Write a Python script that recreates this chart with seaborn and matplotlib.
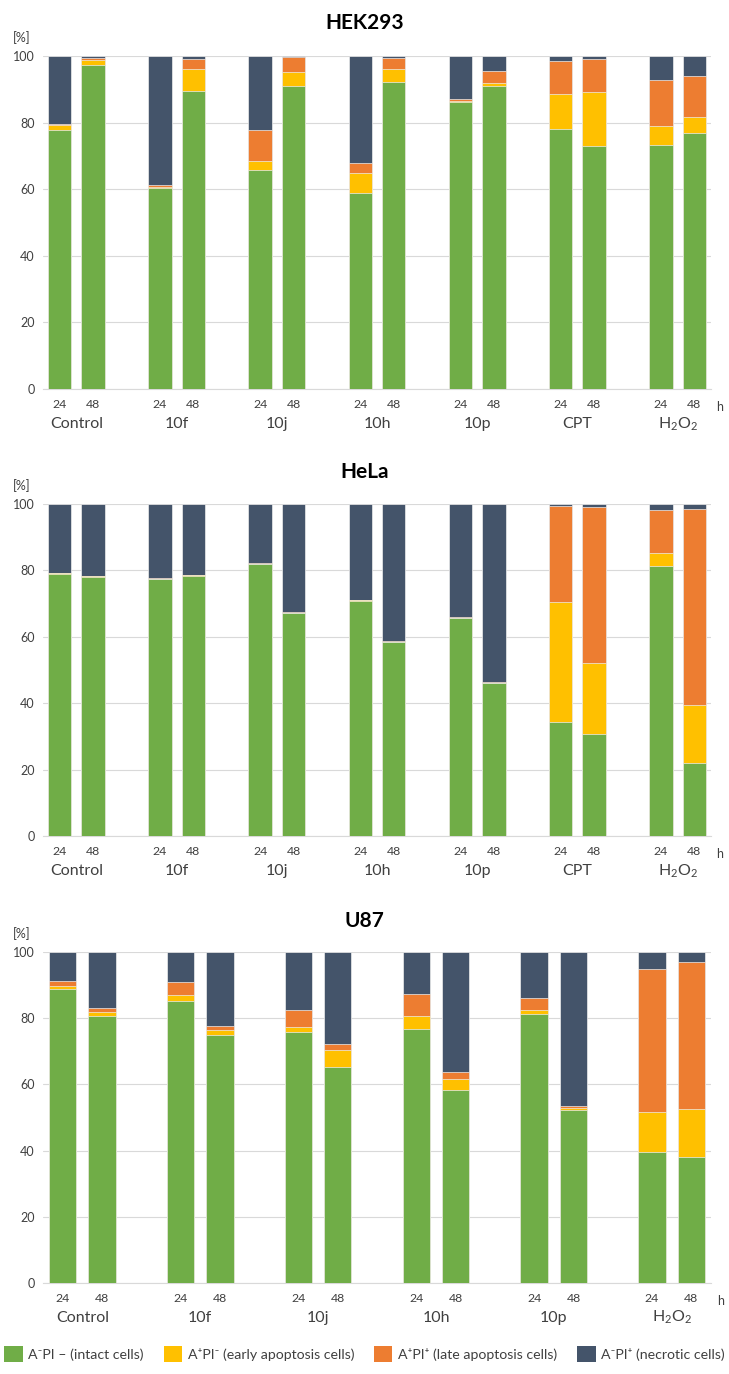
import numpy as np
import pandas as pd
import matplotlib
matplotlib.use("Agg")
import matplotlib.pyplot as plt
import matplotlib.transforms as mtransforms
from matplotlib.patches import Patch
import seaborn as sns

# ---------------- data ----------------
groups_full = ["Control", "10f", "10j", "10h", "10p", "CPT", "H$_2$O$_2$"]
groups_u87 = ["Control", "10f", "10j", "10h", "10p", "H$_2$O$_2$"]
hours = ["24", "48"]

hek_intact = [77.8, 97.3, 60.3, 89.5, 65.9, 91.0, 58.9, 92.3, 86.1, 90.9, 78.2, 73.0, 73.4, 76.8]
hek_early = [1.5, 1.4, 0.5, 6.6, 2.7, 4.1, 6.1, 3.8, 0.5, 1.1, 10.4, 16.3, 5.6, 5.0]
hek_late = [0.4, 0.6, 0.4, 3.0, 9.3, 4.5, 2.9, 3.3, 0.5, 3.5, 9.9, 9.8, 13.9, 12.1]
hek_necrotic = [20.3, 0.7, 38.8, 0.9, 22.1, 0.4, 32.1, 0.6, 12.9, 4.5, 1.5, 0.9, 7.1, 6.1]

hela_intact = [79.0, 78.1, 77.3, 78.4, 81.9, 67.2, 70.9, 58.4, 65.6, 46.0, 34.2, 30.6, 81.2, 22.0]
hela_early = [0.1, 0.1, 0.1, 0.1, 0.1, 0.1, 0.1, 0.1, 0.1, 0.1, 36.4, 21.6, 3.9, 17.4]
hela_late = [0.2, 0.2, 0.3, 0.2, 0.2, 0.2, 0.2, 0.2, 0.2, 0.2, 28.7, 47.0, 13.0, 59.1]
hela_necrotic = [20.7, 21.6, 22.3, 21.3, 17.8, 32.5, 28.8, 41.3, 34.1, 53.7, 0.7, 0.8, 1.9, 1.5]

u87_intact = [88.8, 80.6, 85.2, 74.9, 75.8, 65.4, 76.6, 58.2, 81.2, 52.3, 39.7, 38.2]
u87_early = [0.9, 1.4, 1.8, 1.5, 1.5, 5.1, 4.0, 3.5, 1.2, 0.7, 11.9, 14.4]
u87_late = [1.6, 1.0, 3.9, 1.1, 5.1, 1.6, 6.8, 2.0, 3.7, 0.4, 43.3, 44.5]
u87_necrotic = [8.7, 17.0, 9.1, 22.5, 17.6, 27.9, 12.6, 36.3, 13.9, 46.6, 5.1, 2.9]

legend_labels = ["A\u207bPI \u2013 (intact cells)", "A\u207aPI\u207b (early apoptosis cells)",
                 "A\u207aPI\u207a (late apoptosis cells)", "A\u207bPI\u207a (necrotic cells)"]
colors = ["#70AD47", "#FFC000", "#ED7D31", "#44546A"]

# ---------------- style ----------------
sns.set_theme(style="white")
plt.rcParams["font.family"] = ["Lato", "DejaVu Sans"]
plt.rcParams["mathtext.default"] = "regular"
TXT = "#404040"

W, H = 729, 1374
fig = plt.figure(figsize=(W / 100, H / 100), dpi=100)


def px_axes(left, top, right, bottom):
    return fig.add_axes([left / W, 1 - bottom / H, (right - left) / W, (bottom - top) / H])


def panel(ax, groups, intact, early, late, necrotic):
    n = len(groups)
    slots = []
    for gi in range(n):
        slots += [f"g{gi}_24", f"g{gi}_48"]
        if gi < n - 1:
            slots.append(f"gap{gi}")
    keys = [f"g{gi}_{h}" for gi in range(n) for h in hours]
    intact = np.array(intact); early = np.array(early)
    late = np.array(late); necrotic = np.array(necrotic)
    tops = [intact + early + late + necrotic, intact + early + late, intact + early, intact]
    cols = colors[::-1]
    for top, c in zip(tops, cols):
        df = pd.DataFrame({"slot": keys, "val": top})
        sns.barplot(data=df, x="slot", y="val", order=slots, color=c, saturation=1,
                    width=0.7, edgecolor="#EDEDED", linewidth=0.5, errorbar=None, ax=ax, zorder=3)
    ax.set_ylim(0, 100)
    ax.set_xlim(-0.5, len(slots) - 0.5)
    ax.set_yticks([0, 20, 40, 60, 80, 100])
    ax.yaxis.grid(True, color="#D9D9D9", linewidth=0.8, zorder=0)
    ax.set_axisbelow(True)
    for s in ["top", "right", "left"]:
        ax.spines[s].set_visible(False)
    ax.spines["bottom"].set_color("#D9D9D9")
    ax.spines["bottom"].set_linewidth(0.8)
    ticklabels = []
    for s in slots:
        ticklabels.append(s.split("_")[1] if "_" in s else "")
    ax.set_xticks(range(len(slots)))
    ax.set_xticklabels(ticklabels, fontsize=8.8, color=TXT)
    ax.tick_params(axis="x", length=0, pad=7)
    ax.tick_params(axis="y", length=0, pad=6, labelsize=9, labelcolor=TXT)
    ax.set_xlabel(""); ax.set_ylabel("")
    trans = mtransforms.blended_transform_factory(ax.transData, ax.transAxes)
    for gi, g in enumerate(groups):
        ax.text(gi * 3 + 0.5, -0.105, g, transform=trans, ha="center", va="center",
                fontsize=11.5, color=TXT)
    ax.text(len(slots) - 0.5 + 0.25, -0.053, "h", transform=trans, ha="center", va="center",
            fontsize=9, color=TXT)


layout = [
    ("HEK293", groups_full, hek_intact, hek_early, hek_late, hek_necrotic, 56, 389, 23),
    ("HeLa", groups_full, hela_intact, hela_early, hela_late, hela_necrotic, 504, 836, 472),
    ("U87", groups_u87, u87_intact, u87_early, u87_late, u87_necrotic, 952, 1283, 921),
]
for title, grp, a, b, c, d, top, bottom, ty in layout:
    ax = px_axes(43, top, 711, bottom)
    panel(ax, grp, a, b, c, d)
    fig.text(0.5, 1 - ty / H, title, ha="center", va="center", fontsize=15,
             fontweight="bold", color="black")
    fig.text(22 / W, 1 - (top - 18) / H, "[%]", ha="center", va="center", fontsize=9, color=TXT)

handles = [Patch(facecolor=c, edgecolor="none") for c in colors]
fig.legend(handles, legend_labels, loc="center", bbox_to_anchor=(0.5, 1 - 1354 / H),
           ncol=4, frameon=False, fontsize=10.2, handlelength=1.3, handleheight=1.4,
           handletextpad=0.4, columnspacing=1.4, labelcolor=TXT)

fig.savefig("out.png", dpi=100)
